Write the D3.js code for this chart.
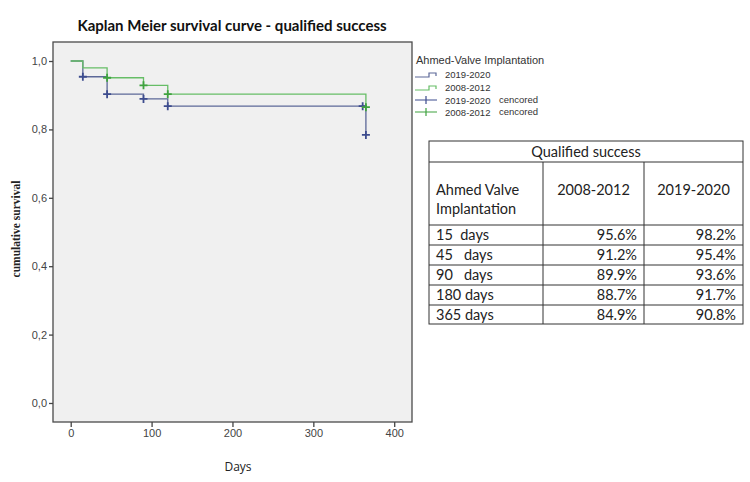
<!DOCTYPE html>
<html>
<head>
<meta charset="utf-8">
<script src="https://cdn.jsdelivr.net/npm/d3@7"></script>
<style>
  body { margin: 0; background: #fff; }
  svg { display: block; }
</style>
</head>
<body>
<div class="container"></div>
<script>
// survival steps (days, cumulative survival)
var stepDays = [0, 15, 45, 90, 120, 365];
var survRecent = [1.0, 0.954, 0.903, 0.889, 0.868, 0.784];   // 2019-2020 (blue)
var survOld = [1.0, 0.980, 0.951, 0.929, 0.903, 0.865];      // 2008-2012 (green)

var censorDaysRecent = [15, 45, 90, 120, 361, 365];
var censorSurvRecent = [0.954, 0.903, 0.889, 0.868, 0.868, 0.784];
var censorDaysOld = [45, 90, 120, 365];
var censorSurvOld = [0.951, 0.929, 0.903, 0.865];

var xTicks = [0, 100, 200, 300, 400];
var yTicks = [0, 0.2, 0.4, 0.6, 0.8, 1.0];

var legendTitle = 'Ahmed-Valve Implantation';
var legendLabels = ['2019-2020', '2008-2012', '2019-2020', '2008-2012'];

// table
var tableTitle = 'Qualified success';
var tableHead = ['Ahmed Valve\nImplantation', '2008-2012', '2019-2020'];
var rowLabels = ['15  days', '45   days', '90   days', '180 days', '365 days'];
var col2008 = ['95.6%', '91.2%', '89.9%', '88.7%', '84.9%'];
var col2019 = ['98.2%', '95.4%', '93.6%', '91.7%', '90.8%'];

const WIDTH = 750;
const HEIGHT = 482;
const PLOT = {left: 53, top: 42, right: 412, bottom: 422};
const BLUE = '#5c6898', BLUE_DARK = '#3d4c8e';
const GREEN = '#66bd66', GREEN_DARK = '#3fa23f';

var svg = d3.select('.container').append('svg')
    .attr('width', WIDTH)
    .attr('height', HEIGHT);

svg.append('rect').attr('width', WIDTH).attr('height', HEIGHT).attr('fill', '#fff');

var xScale = d3.scaleLinear().domain([-21.9, 422]).range([PLOT.left, PLOT.right]);
var yScale = d3.scaleLinear().domain([-0.0556, 1.0556]).range([PLOT.bottom, PLOT.top]);

// title
svg.append('text')
    .attr('x', 232).attr('y', 31)
    .attr('text-anchor', 'middle')
    .style('font-family', 'Lato, sans-serif')
    .style('font-weight', 'bold')
    .style('font-size', '15px')
    .attr('fill', '#111')
    .text('Kaplan Meier survival curve - qualified success');

// plot background
svg.append('rect')
    .attr('x', PLOT.left).attr('y', PLOT.top)
    .attr('width', PLOT.right - PLOT.left).attr('height', PLOT.bottom - PLOT.top)
    .attr('fill', '#f0f0f0')
    .attr('stroke', '#4a4a4a')
    .attr('stroke-width', 1.3);

var comma = function (d) { return d3.format('.1f')(d).replace('.', ','); };

var yAxis = svg.append('g')
    .attr('transform', 'translate(' + PLOT.left + ',0)')
    .call(d3.axisLeft(yScale).tickValues(yTicks).tickFormat(comma).tickSize(4).tickPadding(2));

var xAxis = svg.append('g')
    .attr('transform', 'translate(0,' + PLOT.bottom + ')')
    .call(d3.axisBottom(xScale).tickValues(xTicks).tickSize(5).tickPadding(2));

[yAxis, xAxis].forEach(function (ax) {
    ax.select('.domain').remove();
    ax.selectAll('line').attr('stroke', '#444').attr('stroke-width', 1.3);
    ax.selectAll('text')
        .style('font-family', '"Liberation Sans", Arial, sans-serif')
        .style('font-size', '11px')
        .attr('fill', '#444');
});

// axis titles
svg.append('text')
    .attr('transform', 'translate(20,229) rotate(-90)')
    .attr('text-anchor', 'middle')
    .style('font-family', '"Liberation Serif", "Times New Roman", serif')
    .style('font-weight', 'bold')
    .style('font-size', '11.5px')
    .attr('fill', '#222')
    .text('cumulative survival');

svg.append('text')
    .attr('x', 238).attr('y', 471)
    .attr('text-anchor', 'middle')
    .style('font-family', '"Open Sans", sans-serif')
    .style('font-size', '12px')
    .attr('fill', '#222')
    .text('Days');

// step curves
var step = d3.line()
    .x(function (d) { return xScale(d[0]); })
    .y(function (d) { return yScale(d[1]); })
    .curve(d3.curveStepAfter);

var chart = svg.append('g');

chart.append('path')
    .attr('d', step(d3.zip(stepDays, survRecent)))
    .attr('fill', 'none').attr('stroke', BLUE).attr('stroke-width', 1.3);

chart.append('path')
    .attr('d', step(d3.zip(stepDays, survOld)))
    .attr('fill', 'none').attr('stroke', GREEN).attr('stroke-width', 1.3);

var crossPath = 'M-4,0H4M0,-4V4';

function censor(days, surv, color) {
    chart.selectAll(null).data(d3.zip(days, surv))
        .enter().append('path')
        .attr('transform', function (d) { return 'translate(' + xScale(d[0]) + ',' + yScale(d[1]) + ')'; })
        .attr('d', crossPath)
        .attr('stroke', color).attr('stroke-width', 1.8);
}
censor(censorDaysRecent, censorSurvRecent, BLUE_DARK);
censor(censorDaysOld, censorSurvOld, GREEN_DARK);

// legend
var legend = svg.append('g').attr('transform', 'translate(415,0)');
legend.append('text')
    .attr('x', 1).attr('y', 64)
    .style('font-family', '"Liberation Sans", Arial, sans-serif')
    .style('font-size', '11px')
    .attr('fill', '#333')
    .text(legendTitle);

var legendColors = [BLUE, GREEN, BLUE_DARK, GREEN_DARK];
var legendY = [74, 87, 100, 112];

legend.selectAll('.item').data(legendLabels)
    .enter().append('g')
    .attr('class', 'item')
    .attr('transform', function (d, i) { return 'translate(0,' + legendY[i] + ')'; })
    .each(function (d, i) {
        var g = d3.select(this);
        if (i < 2) {
            g.append('path').attr('d', 'M0,3H14V-1H21V2')
                .attr('fill', 'none').attr('stroke', legendColors[i]).attr('stroke-width', 1.2);
        } else {
            g.append('path').attr('d', 'M0,0H22M11,-4V4')
                .attr('stroke', legendColors[i]).attr('stroke-width', 1.2);
        }
        g.append('text').attr('x', 30).attr('y', 4)
            .style('font-family', '"Liberation Sans", Arial, sans-serif')
            .style('font-size', '9.5px')
            .attr('fill', '#333')
            .text(d);
        if (i >= 2) {
            g.append('text').attr('x', 84).attr('y', 3)
                .style('font-family', '"Liberation Sans", Arial, sans-serif')
                .style('font-size', '9.5px')
                .attr('fill', '#333')
                .text('cencored');
        }
    });

// table
var colX = [429, 543, 644, 743];
var rowY = [141, 162, 225, 245, 265, 285, 305, 324];
var table = svg.append('g')
    .style('font-family', 'Lato, "Open Sans", sans-serif')
    .style('font-size', '14.5px')
    .attr('fill', '#222');

table.append('rect')
    .attr('x', colX[0]).attr('y', rowY[0])
    .attr('width', colX[3] - colX[0]).attr('height', rowY[7] - rowY[0])
    .attr('fill', '#fff').attr('stroke', '#333').attr('stroke-width', 1);

table.selectAll('.hline').data(rowY.slice(1, 7))
    .enter().append('line')
    .attr('x1', colX[0]).attr('x2', colX[3])
    .attr('y1', function (d) { return d; }).attr('y2', function (d) { return d; })
    .attr('stroke', '#333');

table.selectAll('.vline').data(colX.slice(1, 3))
    .enter().append('line')
    .attr('x1', function (d) { return d; }).attr('x2', function (d) { return d; })
    .attr('y1', rowY[1]).attr('y2', rowY[7])
    .attr('stroke', '#333');

table.append('text')
    .attr('x', (colX[0] + colX[3]) / 2).attr('y', 157)
    .attr('text-anchor', 'middle')
    .text(tableTitle);

tableHead[0].split('\n').forEach(function (line, i) {
    table.append('text').attr('x', colX[0] + 7).attr('y', 195 + i * 19).text(line);
});
tableHead.slice(1).forEach(function (h, i) {
    table.append('text')
        .attr('x', (colX[i + 1] + colX[i + 2]) / 2).attr('y', 195)
        .attr('text-anchor', 'middle').text(h);
});

rowLabels.forEach(function (lab, i) {
    var y = rowY[i + 2] + 15;
    table.append('text').attr('x', colX[0] + 7).attr('y', y)
        .style('white-space', 'pre').attr('xml:space', 'preserve').text(lab);
    table.append('text').attr('x', colX[2] - 7).attr('y', y)
        .attr('text-anchor', 'end').text(col2008[i]);
    table.append('text').attr('x', colX[3] - 7).attr('y', y)
        .attr('text-anchor', 'end').text(col2019[i]);
});
</script>
</body>
</html>
